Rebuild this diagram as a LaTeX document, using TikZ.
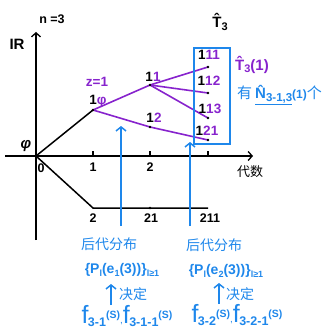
\documentclass[tikz,border=0pt]{standalone}
\usepackage{fontspec}
\setmainfont{Liberation Sans}
\newfontfamily\cjk{Noto Sans CJK SC}
\usetikzlibrary{arrows.meta}
\definecolor{pur}{RGB}{135,35,205}
\definecolor{blu}{RGB}{30,135,235}
\newcommand{\fs}[1]{\fontsize{#1}{#1}\selectfont}
\newcommand{\sub}[2]{\raisebox{-2.5pt}{\fs{#1}\bfseries #2}}
\newcommand{\fterm}[2]{{\fs{25}f}\kern-0.5pt\sub{12.5}{#1}\raisebox{5pt}{\fs{10.5}\bfseries (S)}#2}
\newcommand{\Pset}[1]{\{P\sub{9}{l}(e\sub{9}{#1}(3))\}\sub{9}{l≥1}}
\begin{document}
\begin{tikzpicture}[x=1pt,y=-1pt,
  tip/.style={-{Straight Barb[length=4pt,width=9pt,line width=1.3pt]}},
  axisline/.style={line width=1.4pt,tip},
  blk/.style={line width=1.5pt},
  pl/.style={pur,line width=1.6pt},
  barr/.style={blu,line width=1.7pt,-{Straight Barb[length=4pt,width=10pt,line width=1.5pt]}},
  num/.style={font=\bfseries\fs{13.5},inner sep=0pt},
  tick/.style={font=\bfseries\fs{12.5},inner sep=0pt},
  cn/.style={font=\cjk\fs{14},inner sep=0pt,text=blu}
]
\useasboundingbox (0,0) rectangle (332,329);
% axes
\coordinate (O) at (36,156);
\coordinate (vb) at (36,240);
\coordinate (vt) at (36,32);
\coordinate (hl) at (5,156);
\coordinate (hr) at (253,156);
\draw[axisline] (vb) -- (vt);
\draw[axisline] (hl) -- (hr);
\foreach \x/\n in {93/t1,150/t2,208/t3}{
  \coordinate (\n a) at (\x,151);
  \coordinate (\n b) at (\x,156);
  \draw[blk] (\n a) -- (\n b);
}
\node[tick] (l0) at (41,168) {0};
\node[tick] (l1) at (93,167) {1};
\node[tick] (l2) at (150,167) {2};
\node[font=\bfseries\fs{15},inner sep=0pt] (IR) at (17,44) {IR};
\node[font=\bfseries\fs{12.5},inner sep=0pt] (n3) at (52,19) {n =3};
\node[font=\bfseries\itshape\fs{15},inner sep=0pt] (phi) at (26,146) {φ};
\node[cn,text=black,font=\cjk\fs{13}] (ds) at (250,172) {代数};
% upper tree
\coordinate (n1) at (93,110);
\coordinate (n11) at (150,85);
\coordinate (n12) at (150,127);
\coordinate (l111) at (208,67);
\coordinate (l112) at (208,93);
\coordinate (l113) at (208,118);
\coordinate (l121) at (208,140);
\draw[blk] (O) -- (n1);
\draw[pl] (n1) -- (n11);
\draw[pl] (n1) -- (n12) -- (l121);
\draw[pl] (n11) -- (l111);
\draw[pl] (n11) -- (l112);
\draw[pl] (n11) -- (l113);
\foreach \p in {n1,n11,n12,l111,l112,l113,l121}{\fill (\p) circle (1.3);}
\node[num] (z1) at (97,82) {\textcolor{pur}{z=1}};
\node[num] (x1) at (98,101) {1\textcolor{pur}{φ}};
\node[num] (x11) at (153,77) {1\textcolor{pur}{1}};
\node[num] (x12) at (154,118) {1\textcolor{pur}{2}};
\node[num] (x111) at (209,55) {1\textcolor{pur}{11}};
\node[num] (x112) at (209,81) {1\textcolor{pur}{12}};
\node[num] (x113) at (210,109) {1\textcolor{pur}{13}};
\node[num] (x121) at (207,131) {1\textcolor{pur}{21}};
% box
\draw[blu,line width=1.6pt] (194,48) rectangle (230,144);
\node[font=\bfseries\fs{15},inner sep=0pt] (T3) at (220,22) {\^{T}\sub{11}{3}};
\node[font=\bfseries\fs{15},inner sep=0pt,text=pur] (T31) at (252,65) {\^{T}\sub{11}{3}(1)};
\node[inner sep=0pt,text=blu,anchor=west] (N) at (237,95) {{\cjk\fs{15}有}\kern3pt\underline{\bfseries\fs{15}\^{N}\sub{11.5}{3-1,3}}{\bfseries\fs{12}(1)}{\cjk\fs{15}个}};
% lower branch
\coordinate (b2) at (93,208);
\coordinate (b21) at (150,208);
\coordinate (b211) at (208,208);
\draw[blk] (O) -- (b2) -- (b211);
\fill (b21) circle (1.3);
\node[tick] (y2) at (93,218) {2};
\node[tick] (y21) at (151,218) {21};
\node[tick] (y211) at (210,218) {211};
% blue arrows
\coordinate (a1s) at (121,226);
\coordinate (a1e) at (121,126);
\coordinate (a2s) at (190,226);
\coordinate (a2e) at (190,142);
\draw[barr] (a1s) -- (a1e);
\draw[barr] (a2s) -- (a2e);
\node[cn] (hd1) at (109,244) {后代分布};
\node[cn] (hd2) at (214,245) {后代分布};
\node[inner sep=0pt,text=blu,font=\bfseries\fs{14}] (P1) at (122,270) {\Pset{1}};
\node[inner sep=0pt,text=blu,font=\bfseries\fs{14}] (P2) at (226,271) {\Pset{2}};
\coordinate (s1s) at (111,305);
\coordinate (s1e) at (111,284);
\coordinate (s2s) at (219,304);
\coordinate (s2e) at (219,283);
\draw[barr] (s1s) -- (s1e);
\draw[barr] (s2s) -- (s2e);
\node[cn] (jd1) at (133,294) {决定};
\node[cn] (jd2) at (240,294) {决定};
\node[inner sep=0pt,text=blu] (f1) at (127,316) {\fterm{3-1}{,}\fterm{3-1-1}{}};
\node[inner sep=0pt,text=blu] (f2) at (237,315) {\fterm{3-2}{,}\fterm{3-2-1}{}};
\end{tikzpicture}
\end{document}
